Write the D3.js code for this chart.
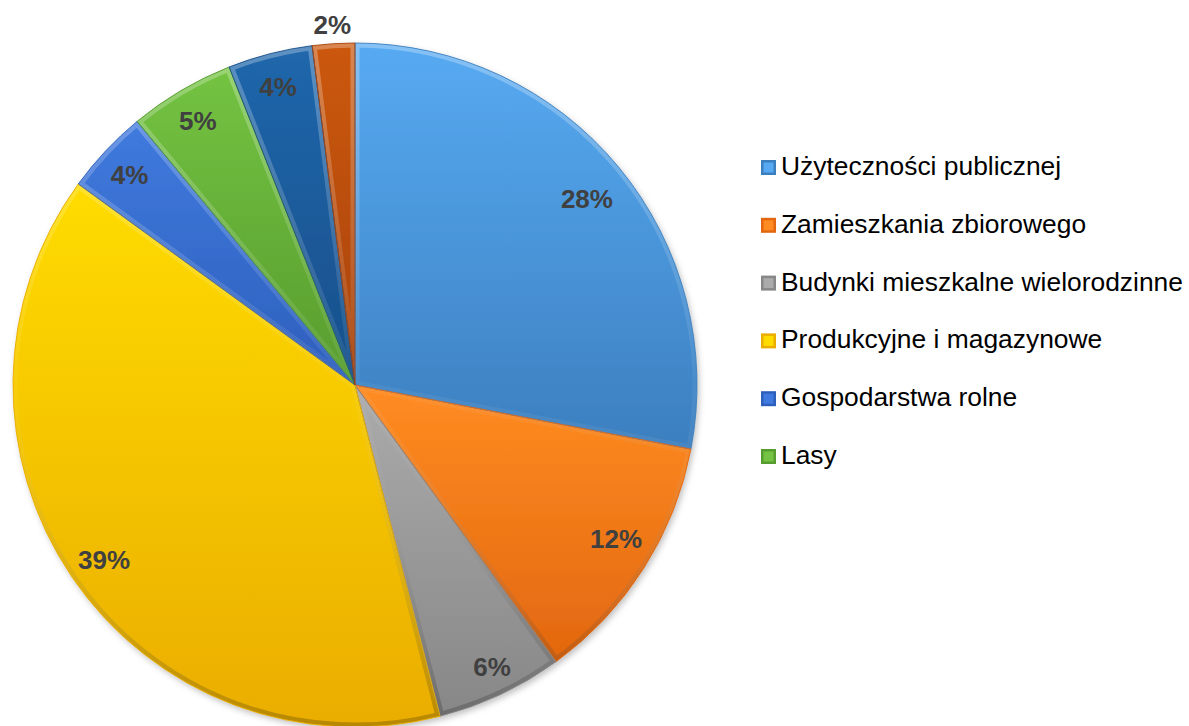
<!DOCTYPE html>
<html>
<head>
<meta charset="utf-8">
<script src="https://cdn.jsdelivr.net/npm/d3@7"></script>
<style>
  body { margin: 0; background: #fff; }
  svg { display: block; }
</style>
</head>
<body>
<svg width="1189" height="726"></svg>
<script>
// slice data, clockwise from 12 o'clock
const categories = [
  "Użyteczności publicznej",
  "Zamieszkania zbiorowego",
  "Budynki mieszkalne wielorodzinne",
  "Produkcyjne i magazynowe",
  "Gospodarstwa rolne",
  "Lasy",
  "Inne 1",
  "Inne 2"
];
const values = [28, 12, 6, 39, 4, 5, 4, 2];
const legendCount = 6; // only the first six show up in the legend

// light (top) / dark (bottom) colours for each slice
const lightColors = ["#57aaf2", "#ff8c22", "#ababab", "#ffdc00", "#407ade", "#74c342", "#2067ac", "#cc580e"];
const darkColors  = ["#3c7fbf", "#e2670f", "#878787", "#eaad00", "#2d5fbc", "#579c2e", "#174f8a", "#a7430a"];

const width = 1189, height = 726;
const cx = 355, cy = 385, R = 342;

const svg = d3.select("svg");
const defs = svg.append("defs");

// soft shadow under the pie
const shadow = defs.append("filter").attr("id", "shadow")
  .attr("x", "-10%").attr("y", "-10%").attr("width", "120%").attr("height", "120%");
shadow.append("feDropShadow")
  .attr("dx", 2).attr("dy", 3).attr("stdDeviation", 3)
  .attr("flood-color", "#000").attr("flood-opacity", 0.25);

// vertical gradient per slice (slice bounding box)
categories.forEach((c, i) => {
  const g = defs.append("linearGradient")
    .attr("id", "grad" + i)
    .attr("x1", 0).attr("y1", 0).attr("x2", 0).attr("y2", 1);
  g.append("stop").attr("offset", "0%").attr("stop-color", lightColors[i]);
  g.append("stop").attr("offset", "100%").attr("stop-color", darkColors[i]);
});

// bevel gradient: light on top, dark at bottom
const bevel = defs.append("linearGradient")
  .attr("id", "bevel")
  .attr("gradientUnits", "userSpaceOnUse")
  .attr("x1", 0).attr("y1", -R).attr("x2", 0).attr("y2", R);
bevel.append("stop").attr("offset", "0%").attr("stop-color", "#fff").attr("stop-opacity", 0.28);
bevel.append("stop").attr("offset", "50%").attr("stop-color", "#fff").attr("stop-opacity", 0.05);
bevel.append("stop").attr("offset", "100%").attr("stop-color", "#000").attr("stop-opacity", 0.22);

const pie = d3.pie().sort(null).value(d => d);
const arcs = pie(values);
const arc = d3.arc().innerRadius(0).outerRadius(R);

const chart = svg.append("g").attr("transform", `translate(${cx},${cy})`);

// clip paths so the bevel stroke stays inside each slice
arcs.forEach((d, i) => {
  defs.append("clipPath").attr("id", "clip" + i)
    .append("path").attr("d", arc(d));
});

chart.append("g").attr("filter", "url(#shadow)")
  .selectAll("path")
  .data(arcs)
  .enter()
  .append("path")
  .attr("d", arc)
  .attr("fill", (d, i) => `url(#grad${i})`);

// bevel edges
chart.append("g")
  .selectAll("path")
  .data(arcs)
  .enter()
  .append("path")
  .attr("clip-path", (d, i) => `url(#clip${i})`)
  .attr("d", arc)
  .attr("fill", "none")
  .attr("stroke", "url(#bevel)")
  .attr("stroke-width", 9);

// thin dark outline
chart.append("g")
  .selectAll("path")
  .data(arcs)
  .enter()
  .append("path")
  .attr("d", arc)
  .attr("fill", "none")
  .attr("stroke", (d, i) => darkColors[i])
  .attr("stroke-opacity", 0.9)
  .attr("stroke-width", 1);

// percentage labels (radius factor relative to R, small pixel nudges)
const labelRadius = [0.88, 0.88, 0.88, 0.88, 0.88, 0.88, 0.88, 1.06];
const labelNudge = [[0, 6], [7, -7], [9, 10], [-2, 6], [-6, -4], [-4, -5], [-2, -7], [0, 2]];
const total = d3.sum(values);
chart.append("g")
  .selectAll("text")
  .data(arcs)
  .enter()
  .append("text")
  .attr("transform", (d, i) => {
    const a = (d.startAngle + d.endAngle) / 2;
    const r = R * labelRadius[i];
    return `translate(${Math.sin(a) * r + labelNudge[i][0]},${-Math.cos(a) * r + labelNudge[i][1]})`;
  })
  .attr("text-anchor", "middle")
  .attr("dy", "0.35em")
  .attr("font-family", "Liberation Sans, Arial, sans-serif")
  .attr("font-weight", "bold")
  .attr("font-size", 26)
  .attr("fill", "#404040")
  .text(d => Math.round(d.data / total * 100) + "%");

// legend
const legend = svg.append("g").attr("transform", "translate(761,0)");
const rowY = d3.scaleLinear().domain([0, 1]).range([175, 232.8]);
const rows = legend.selectAll("g")
  .data(categories.slice(0, legendCount))
  .enter()
  .append("g")
  .attr("transform", (d, i) => `translate(0,${rowY(i)})`);

rows.append("rect")
  .attr("x", 0).attr("y", -15)
  .attr("width", 15).attr("height", 15)
  .attr("fill", (d, i) => darkColors[i]);
rows.append("rect")
  .attr("x", 2.5).attr("y", -12.5)
  .attr("width", 10).attr("height", 10)
  .attr("fill", (d, i) => lightColors[i]);

rows.append("text")
  .attr("x", 20)
  .attr("y", 0)
  .attr("font-family", "Liberation Sans, Arial, sans-serif")
  .attr("font-size", 26.4)
  .attr("fill", "#000")
  .text(d => d);
</script>
</body>
</html>
